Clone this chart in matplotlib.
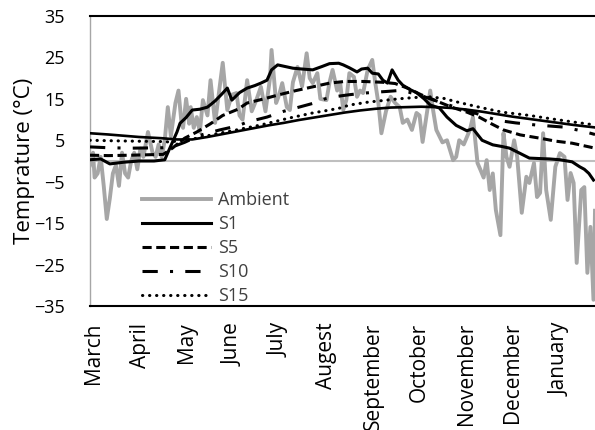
import matplotlib
matplotlib.use("Agg")
import matplotlib.pyplot as plt

plt.rcParams['font.family'] = ['Open Sans', 'DejaVu Sans']

# Month tick positions (day index from 1 March) and labels
month_days = [0, 31, 61, 92, 122, 153, 184, 214, 245, 275, 306]
month_labels = ["March", "April", "May", "June", "July", "Augest", "September",
                "October", "November", "December", "January"]

# Ambient air temperature (day, °C)
amb_day = [-2, 0, 1, 3, 5, 7, 9, 11, 13, 15, 17, 19, 21, 23, 25, 27, 29, 31, 33, 36,
           39, 41, 43, 45, 47, 49, 51, 54, 56, 58, 59, 61, 63, 64, 66, 68, 70, 72, 75, 77,
           80, 82, 85, 88, 91, 94, 96, 98, 101, 104, 107, 110, 113, 116, 117, 120, 122, 124, 127, 129,
           131, 134, 137, 140, 142, 144, 147, 149, 153, 155, 157, 160, 162, 164, 166, 168, 171, 173, 175, 177,
           180, 183, 185, 187, 189, 192, 195, 198, 201, 203, 206, 209, 212, 214, 216, 219, 221, 223, 225, 229,
           232, 236, 238, 240, 243, 247, 249, 252, 254, 256, 258, 260, 262, 264, 267, 269, 271, 273, 276, 278,
           281, 284, 286, 289, 291, 293, 295, 297, 300, 303, 306, 309, 311, 313, 315, 317, 320, 322, 324, 326,
           328, 329]
amb_temp = [-1, 2, -4, -3, 1, -6, -14, -9, -3, -1, -6, 2, -3, -4, 0, 2, -2, 3, 1, 7,
            2, 1, 4, 1, 5, 13, 6, 14, 17, 9, 8, 15, 9, 13, 8, 10.6, 7, 14.7, 11, 19.5,
            9.2, 15, 23.7, 12.3, 16, 16.4, 11, 10, 19.5, 12, 14.7, 17.9, 12, 20, 26.8, 14, 16, 18.8, 13, 12.3,
            19, 22.7, 18, 26, 20, 18.8, 21.2, 15, 14.7, 19, 22, 17, 18.8, 12.3, 14.7, 21.2, 20.3, 15.5, 17, 16.4,
            22, 24.4, 18.8, 14, 6.7, 12, 15.5, 14, 13, 9.2, 10, 7.5, 11.6, 11, 4.6, 12, 17, 12, 7.5, 4.5,
            5, 0.2, 1, 5, 4, 7.5, 10.6, -0.5, -2.2, -4, 0.2, -7, -3, -11.8, -17.9, 6.7, 1, -1.4, 5, 1,
            -12.5, -3.8, -5.3, -0.5, -8.7, -7.7, 6.7, -7, -14.2, -1.4, 1.9, 1, -9.4, -2.9, -5.3, -24.6, -7, -6.3, -27, -15.9,
            -33.5, -12]

# S1 (solid)
s1_day = [-2, 5, 11, 20, 30, 40, 47, 49, 52, 55, 57, 61, 65, 70, 75, 80, 84, 88, 91, 96,
          101, 106, 110, 114, 117, 121, 126, 131, 137, 144, 150, 155, 161, 164, 168, 173, 176, 180, 183, 187,
          190, 193, 196, 200, 203, 208, 212, 217, 221, 227, 232, 238, 245, 249, 255, 262, 268, 273, 279, 286,
          292, 299, 306, 314, 319, 322, 325, 328]
s1_temp = [0.3, 0.5, -0.7, -0.3, 0, 0, 0.3, 2, 4.5, 7, 9.1, 10.5, 12.3, 12.5, 13, 14.5, 16, 17.6, 14.7, 16.5,
           17.6, 18.2, 18.8, 19.5, 22, 23.2, 22.8, 22.4, 22.2, 22, 22.8, 23.5, 23.6, 23.2, 22.5, 21.5, 22.2, 22.4, 21.2, 21,
           19.5, 18.8, 22, 19.5, 18.3, 17.2, 16.5, 15, 13.5, 12.8, 10.6, 8.6, 7.3, 7.8, 5, 3.9, 3.5, 3.1, 2, 0.7,
           0.6, 0.5, 0.3, -0.2, -1.4, -2, -3, -4.6]

# S5 (dashed)
s5_day = [-2, 10, 25, 46, 52, 60, 68, 77, 85, 95, 101, 112, 122, 133, 144, 155, 165, 177, 190, 198,
          206, 215, 225, 235, 245, 253, 261, 269, 280, 293, 303, 314, 329]
s5_temp = [1.4, 1.3, 1.4, 1.6, 3.1, 5.5, 7, 9, 11, 12.5, 14, 15, 16, 17, 17.9, 18.8, 19.2, 19.2, 19, 18.7,
           17.6, 16, 14.5, 13, 11.8, 10.6, 9, 7.5, 6.3, 5.5, 4.8, 4.3, 3.1]

# S10 (dash-dot)
s10_day = [-2, 10, 25, 46, 52, 60, 70, 83, 95, 101, 114, 125, 135, 145, 152, 160, 168, 178, 185, 193,
           200, 207, 215, 225, 235, 245, 255, 265, 277, 290, 308, 320, 329]
s10_temp = [3.4, 3.2, 3.1, 3.2, 3.4, 4.5, 6.2, 7.5, 8.5, 9.4, 10.6, 12, 13, 14, 15, 15.6, 16, 16.4, 16.6, 16.8,
            17, 16.6, 15.8, 14.5, 13.3, 12.2, 11, 9.8, 9.2, 8.7, 8.2, 7.3, 6.4]

# S15 (dotted)
s15_day = [-2, 10, 25, 44, 50, 60, 68, 80, 94, 110, 129, 144, 155, 162, 168, 180, 190, 200, 210, 220,
           230, 238, 253, 268, 286, 300, 315, 329]
s15_temp = [5, 4.9, 4.8, 4.7, 4.6, 5, 5.5, 6.5, 7.5, 8.7, 10.4, 11.6, 12.3, 12.8, 13.5, 14.2, 14.6, 15, 15.3, 15.5,
            15.1, 14.3, 13, 11.8, 11, 10.2, 9.4, 8.7]

# Deepest sensor (solid, not in legend)
deep_day = [-2, 10, 20, 30, 45, 55, 65, 75, 85, 95, 105, 115, 125, 135, 145, 155, 165, 175, 185, 195,
            205, 215, 225, 235, 245, 255, 265, 275, 285, 295, 305, 315, 329]
deep_temp = [6.7, 6.4, 6.1, 5.8, 5.5, 5.2, 5.2, 5.8, 6.5, 7.2, 7.9, 8.6, 9.2, 9.9, 10.5, 11.1, 11.7, 12.2, 12.6, 12.9,
             13, 13.1, 13, 12.8, 12.4, 11.9, 11.3, 10.7, 10.2, 9.7, 9.2, 8.7, 8.1]

fig = plt.figure(figsize=(5.95, 4.30), dpi=100)
ax = fig.add_axes([90 / 595, (430 - 306) / 430, 505 / 595, 290 / 430])

ax.axhline(0, color='#BFBFBF', lw=1.5, zorder=1)
ax.plot(amb_day, amb_temp, color='#A6A6A6', lw=2.8, label='Ambient', zorder=2)
ax.plot(deep_day, deep_temp, color='black', lw=1.9, zorder=3)
ax.plot(s1_day, s1_temp, color='black', lw=2.2, label='S1', zorder=4)
ax.plot(s5_day, s5_temp, color='black', lw=2.2, dashes=(3, 1.5), label='S5', zorder=4)
ax.plot(s10_day, s10_temp, color='black', lw=2.2, dashes=(5, 4, 1, 4), label='S10', zorder=4)
ax.plot(s15_day, s15_temp, color='black', lw=2.2, dashes=(0.1, 2.2), dash_capstyle='round',
        label='S15', zorder=4)

ax.set_xlim(-2, 329)
ax.set_ylim(-35, 35)
ax.set_yticks([35, 25, 15, 5, -5, -15, -25, -35])
ax.set_xticks(month_days)
ax.set_xticklabels(month_labels, rotation=90, va='top', ha='center')
ax.tick_params(axis='both', length=0, colors='black')
ax.tick_params(axis='x', pad=12, labelsize=15)
ax.tick_params(axis='y', pad=18, labelsize=13)

for s in ['top', 'bottom']:
    ax.spines[s].set_color('black')
    ax.spines[s].set_linewidth(1.5)
ax.spines['left'].set_color('#A6A6A6')
ax.spines['left'].set_linewidth(1.0)
ax.spines['right'].set_visible(False)

ax.set_ylabel('Temprature (°C)', fontsize=16)
ax.yaxis.set_label_coords(-(90 - 35) / 505, 0.5)

leg = ax.legend(loc='upper left', bbox_to_anchor=(142 / 595, 1 - 191 / 430),
                bbox_transform=fig.transFigure, frameon=False, fontsize=13,
                handlelength=3.8, handletextpad=0.4, labelspacing=0.33,
                borderpad=0, borderaxespad=0)
for t in leg.get_texts():
    t.set_color('#404040')

fig.savefig('out.png', dpi=100)
